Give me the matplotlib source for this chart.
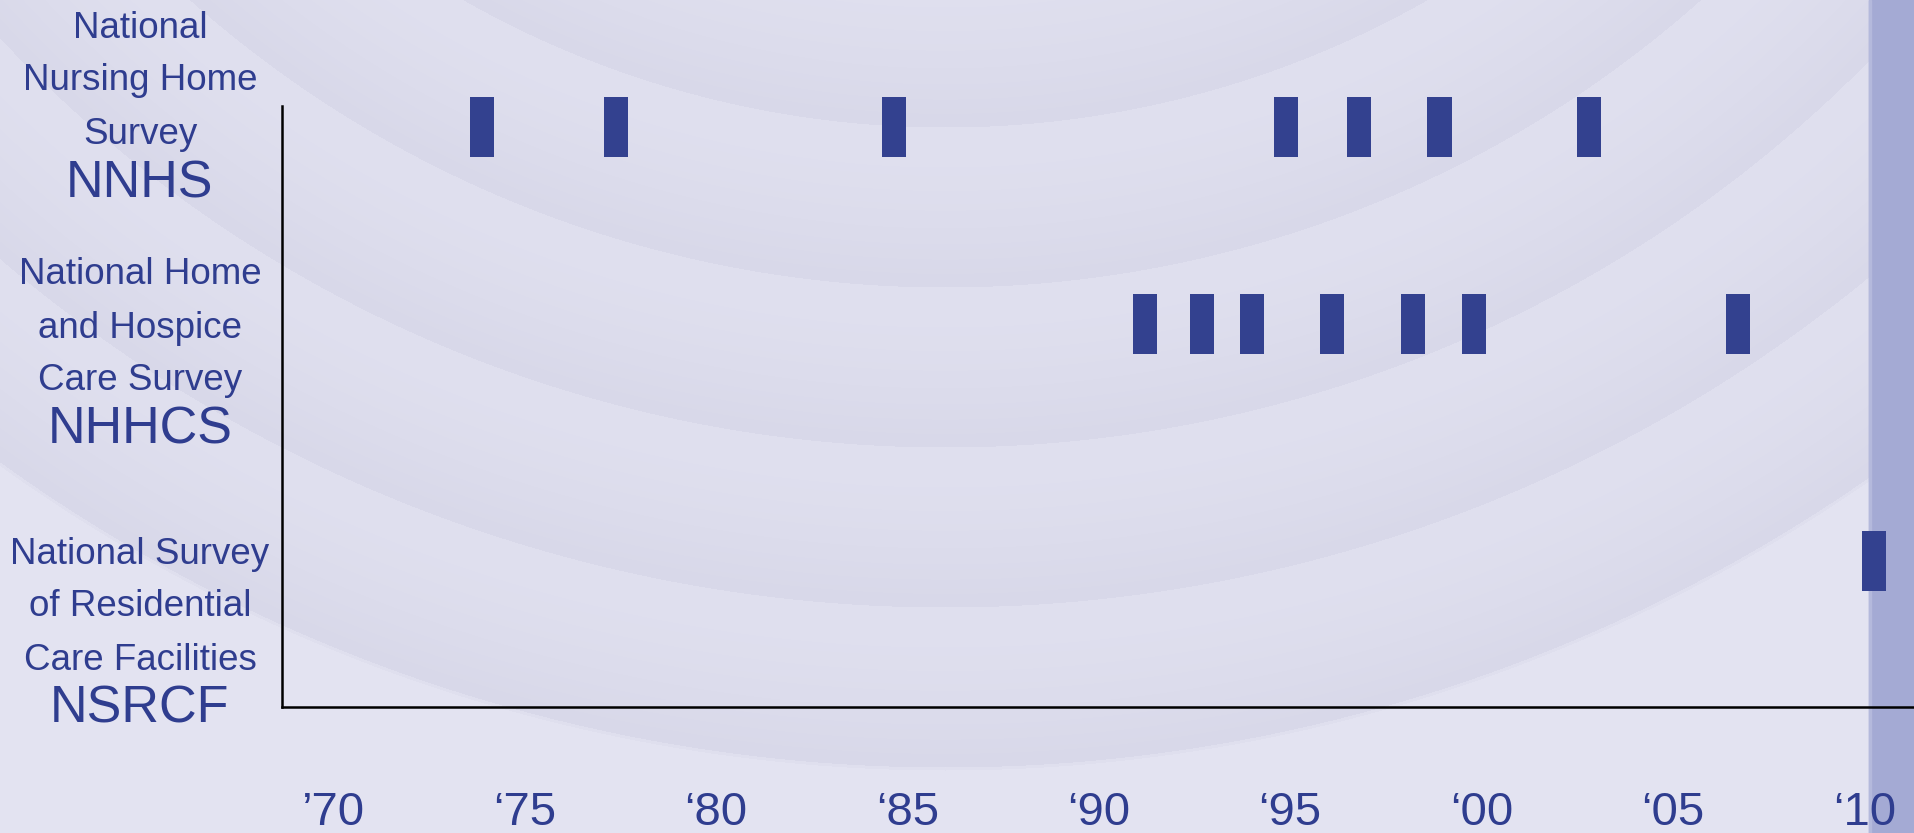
import numpy as np
import matplotlib
matplotlib.use('Agg')
import matplotlib.pyplot as plt
from matplotlib.patches import Rectangle

plt.rcParams['font.family'] = ['Liberation Sans', 'DejaVu Sans']

# survey years
nnhs_years = [1973.9, 1977.4, 1984.65, 1994.9, 1996.8, 1998.9, 2002.8]
nhhcs_years = [1991.2, 1992.7, 1994.0, 1996.1, 1998.2, 1999.8, 2006.7]
nsrcf_years = [2010.25]

tick_years = [1970, 1975, 1980, 1985, 1990, 1995, 2000, 2005, 2010]
tick_labels = ['\u201970', '\u201875', '\u201880', '\u201885', '\u201890',
               '\u201895', '\u201800', '\u201805', '\u201810']

survey_lines = [
    ['National', 'Nursing Home', 'Survey'],
    ['National Home', 'and Hospice', 'Care Survey'],
    ['National Survey', 'of Residential', 'Care Facilities'],
]
survey_codes = ['NNHS', 'NHHCS', 'NSRCF']

W, H = 1915, 833
text_col = '#2f3d8f'
bar_col = '#33418f'

fig = plt.figure(figsize=(W / 100, H / 100), dpi=100)

# background: soft concentric rings
bg = fig.add_axes([0, 0, 1, 1], zorder=-2)
yy, xx = np.mgrid[0:H, 0:W]
r = np.hypot(xx - 945, yy + 850)
phase = ((r - 977) % 160) / 160.0
light = np.array([224, 224, 239]) / 255.0
dark = np.array([216, 216, 233]) / 255.0
t = phase ** 1.5
img = light[None, None, :] * (1 - t[..., None]) + dark[None, None, :] * t[..., None]
outer = r > 1620
img[outer] = np.array([227, 227, 241]) / 255.0
bg.imshow(img, extent=[0, W, H, 0], aspect='auto')
bg.set_xlim(0, W)
bg.set_ylim(H, 0)
bg.axis('off')
bg.add_patch(Rectangle((1869, 0), W - 1869, H, color='#a4aad4', zorder=3))
bg.add_patch(Rectangle((1869, 0), 2, H, color='#b4b9dc', zorder=4))

# main axes
ax = fig.add_axes([281.7 / W, 1 - 706.7 / H, 1 - 281.7 / W, (706.7 - 106) / H])
ax.patch.set_alpha(0)
ax.set_xlim(1968.66, 2011.32)
ax.set_ylim(0, 1)

row_y = [0.965, 0.637, 0.2426]
bar_h = 0.1
for years, yc in zip([nnhs_years, nhhcs_years, nsrcf_years], row_y):
    ax.bar(years, bar_h, width=0.63, bottom=yc - bar_h / 2, color=bar_col,
           clip_on=False, zorder=3)

for s in ['top', 'right']:
    ax.spines[s].set_visible(False)
for s in ['left', 'bottom']:
    ax.spines[s].set_linewidth(1.8)
    ax.spines[s].set_color('black')

ax.set_yticks([])
ax.set_xticks(tick_years)
ax.set_xticklabels(tick_labels, fontsize=34, color=text_col)
ax.tick_params(axis='x', length=0, pad=61)

# survey names on the left
line_px = [[28, 81, 134.5], [274, 329, 381], [555, 607, 661]]
code_px = [184.5, 430, 709]
for lines, ys, code, cy in zip(survey_lines, line_px, survey_codes, code_px):
    for txt, y in zip(lines, ys):
        fig.text(140 / W, 1 - y / H, txt, ha='center', va='center',
                 fontsize=26.5, color=text_col)
    fig.text(140 / W, 1 - cy / H, code, ha='center', va='center',
             fontsize=37.5, color=text_col)

fig.savefig('out.png', dpi=100)
